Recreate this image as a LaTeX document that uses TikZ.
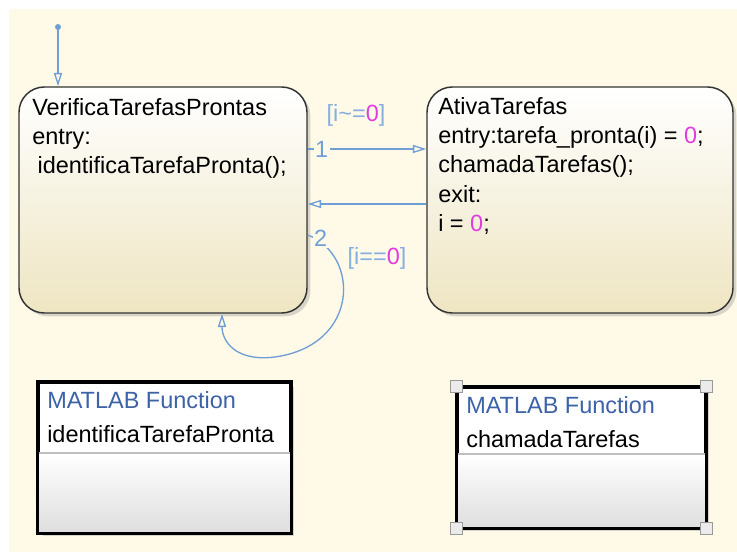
\documentclass[tikz,border=0pt]{standalone}
\usepackage{xcolor}
\usepackage{fontspec}
\setmainfont{Liberation Sans}
\usepackage{tikz}
\usetikzlibrary{positioning,calc,fit,shadows,arrows.meta}

\definecolor{chartbg}{HTML}{FFFAE8}
\definecolor{statebot}{HTML}{EEE5C2}
\definecolor{transblue}{HTML}{6F9FD6}
\definecolor{guardblue}{HTML}{86AFE0}
\definecolor{numpink}{HTML}{E03CE0}
\definecolor{fnblue}{HTML}{3D62A8}

\tikzset{
  chartstate/.style={draw=black!80, line width=1.1pt, rounded corners=19pt, inner sep=0pt,
    top color=white, bottom color=statebot,
    drop shadow={opacity=0.3, shadow xshift=2.5pt, shadow yshift=-2.5pt}},
  fnbox/.style={draw=black, line width=2.2pt, fill=white, inner sep=0pt,
    drop shadow={opacity=0.3, shadow xshift=3pt, shadow yshift=-3pt}},
  transarrow/.style={draw=transblue, line width=1pt, -{Triangle[open, length=10pt, width=6pt]}},
  chtext/.style={font=\fontsize{17.6}{22}\selectfont, align=left, inner sep=0pt, anchor=north west},
  guard/.style={font=\fontsize{17.6}{22}\selectfont, text=guardblue, inner sep=0pt},
  order/.style={font=\fontsize{17.6}{22}\selectfont, text=transblue, fill=chartbg, inner sep=1pt},
}
\newcommand{\zero}{\textcolor{numpink}{0}}

\begin{document}
\begin{tikzpicture}[x=0.75pt, y=-0.75pt]
    \useasboundingbox (0,0) rectangle (737,552);
    \fill[white] (0,0) rectangle (737,552);
    \fill[chartbg] (9,9) rectangle (737,552);

    % states
    \node[chartstate, fit={(19,87) (307,313)}] (verif) {};
    \node[chartstate, fit={(427,87) (733,313)}] (ativa) {};
    \node[chtext] (verifTxt) at (32,98) {VerificaTarefasProntas\\entry:\\\hspace*{4pt}identificaTarefaPronta();};
    \node[chtext] (ativaTxt) at (438,97) {AtivaTarefas\\entry:tarefa\_pronta(i) = \zero;\\chamadaTarefas();\\exit:\\i = \zero;};

    % default transition
    \coordinate (init) at (58,27);
    \fill[transblue] (init) circle (3);
    \draw[transarrow] (init) -- (init |- verif.north);

    % transitions between the states
    \draw[transarrow] ($(verif.east)+(0,-51)$) coordinate (t1) -- (ativa.west |- t1);
    \draw[transarrow] ($(ativa.west)+(0,4)$) coordinate (t3) -- (verif.east |- t3);
    \draw[transarrow] ($(verif.east)+(0,35)$) coordinate (t2)
        .. controls (360,255) and (360,345) .. (275,357)
        .. controls (235,362) and ($(verif.south)+(59,27)$) .. ($(verif.south)+(59,0)$);
    \node[order] (ord1) at ($(t1)+(14,0)$) {1};
    \node[order] (ord2) at ($(t2)+(13,3)$) {2};
    \node[guard] (g1) at (356,115) {[i\string~=\zero]};
    \node[guard] (g2) at (377,258) {[i==\zero]};

    % matlab function blocks
    \node[fnbox, fit={(39,383) (290,532)}] (fnIdent) {};
    \node[fnbox, line width=2pt, fit={(458,388) (705,527)}] (fnCall) {};
    \foreach \fn/\ydiv in {fnIdent/453, fnCall/454} {
        \shade[top color=white, bottom color=black!13] (\fn.south west |- 0,\ydiv) rectangle (\fn.south east);
        \draw[black!25, line width=1pt] (\fn.west |- 0,\ydiv) -- (\fn.east |- 0,\ydiv);
        \draw[line width=2.2pt] (\fn.south west) rectangle (\fn.north east);
    }
    \node[chtext, font=\fontsize{17.6}{25.5}\selectfont] (fnIdentTxt) at (47,391) {\textcolor{fnblue}{MATLAB Function}\\identificaTarefaPronta};
    \node[chtext, font=\fontsize{17.6}{25.5}\selectfont] (fnCallTxt) at (466,396) {\textcolor{fnblue}{MATLAB Function}\\chamadaTarefas};
    \foreach \c in {north west, north east, south west, south east}
        \draw[black!40, fill=black!8, line width=1pt] ($(fnCall.\c)+(-6,-6)$) rectangle ++(12,12);
\end{tikzpicture}
\end{document}
